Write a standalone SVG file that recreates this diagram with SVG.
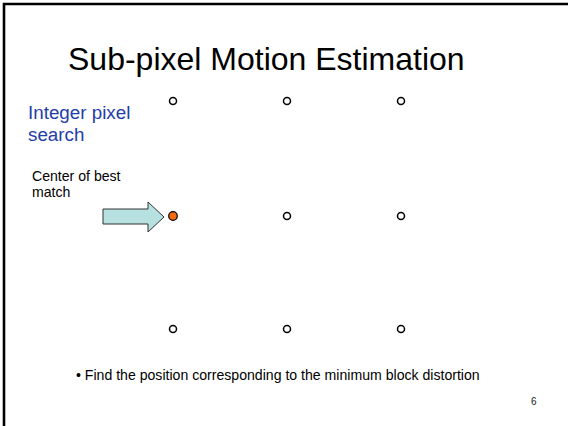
<svg xmlns="http://www.w3.org/2000/svg" width="568" height="426" viewBox="0 0 568 426">
<style>
.t{font-family:"Liberation Sans",Arial,sans-serif;fill:#000}
.pt{fill:#fff;stroke:#000;stroke-width:1.5}
</style>
<rect width="568" height="426" fill="#fff"/>
<path d="M4,426 V4 H568" fill="none" stroke="#000" stroke-width="2.6"/>
<text class="t" x="68" y="70" font-size="32">Sub-pixel Motion Estimation</text>
<g id="label-integer">
<text class="t" x="28" y="119" font-size="18.8" style="fill:#1f3ea8">Integer pixel</text>
<text class="t" x="28" y="141" font-size="18.8" style="fill:#1f3ea8">search</text>
</g>
<g id="label-center">
<text class="t" x="32" y="181" font-size="14.1">Center of best</text>
<text class="t" x="32" y="197" font-size="14.1">match</text>
</g>
<g id="points">
<circle id="p11" class="pt" cx="173" cy="101" r="3.5"/>
<circle id="p12" class="pt" cx="287" cy="101" r="3.5"/>
<circle id="p13" class="pt" cx="401" cy="101" r="3.5"/>
<circle id="p21" cx="173" cy="216" r="4.3" fill="#f26a10" stroke="#000" stroke-width="1.2"/>
<circle id="p22" class="pt" cx="287" cy="216" r="3.5"/>
<circle id="p23" class="pt" cx="401" cy="216" r="3.5"/>
<circle id="p31" class="pt" cx="173" cy="329" r="3.5"/>
<circle id="p32" class="pt" cx="287" cy="329" r="3.5"/>
<circle id="p33" class="pt" cx="401" cy="329" r="3.5"/>
</g>
<g id="connectors">
<polygon points="103,209 148,209 148,202 164,217 148,232 148,224 103,224" fill="#b7e0e0" stroke="#333" stroke-width="1"/>
</g>
<text class="t" x="76" y="380" font-size="14.1">• Find the position corresponding to the minimum block distortion</text>
<text class="t" x="531" y="405" font-size="10" style="fill:#222">6</text>
</svg>
